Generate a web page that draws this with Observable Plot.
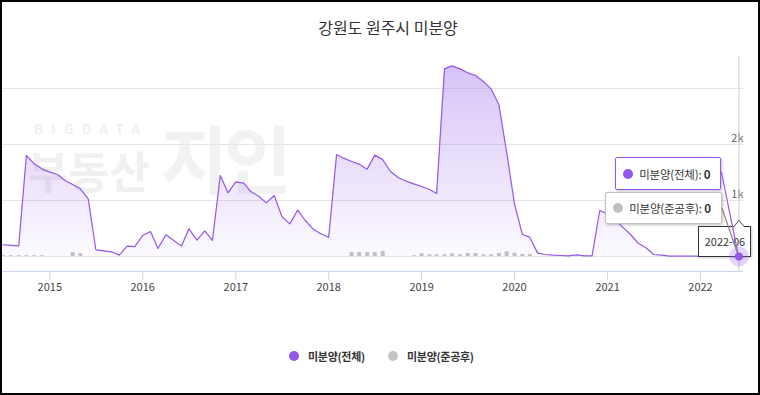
<!DOCTYPE html>
<html><head><meta charset="utf-8">
<script src="https://cdn.jsdelivr.net/npm/d3@7"></script>
<script src="https://cdn.jsdelivr.net/npm/@observablehq/plot@0.6"></script>
<style>
body{margin:0;background:#fff;font-family:"Noto Sans CJK KR","Noto Sans",sans-serif;}
#wrap{position:relative;width:760px;height:395px;overflow:hidden;background:#fff;}
#frame{position:absolute;left:0;top:0;width:760px;height:395px;box-sizing:border-box;border:2px solid #000;pointer-events:none;z-index:20;}
#title{position:absolute;left:0;width:776px;top:15px;text-align:center;font-size:16px;line-height:24px;color:#333;z-index:3;}
#chart{position:absolute;left:0;top:0;z-index:2;}
#hover{position:absolute;left:0;top:0;z-index:9;}
#chart svg,#hover svg{overflow:visible;}
#chart svg [aria-label^="x-axis"] line,#chart svg [aria-label^="x-axis"] path{stroke:#ccd6eb;}
#chart svg [aria-label^="x-axis"] text{fill:#444;}
.wm{position:absolute;color:#f0f0f0;font-weight:bold;z-index:1;white-space:nowrap;}
.legend{position:absolute;top:347px;font-size:11px;font-weight:bold;color:#333;line-height:18px;z-index:3;display:flex;align-items:center;letter-spacing:-0.3px;}
.legend i{display:inline-block;width:10px;height:10px;border-radius:50%;margin-right:9px;}
.tip{position:absolute;box-sizing:border-box;background:rgba(255,255,255,0.96);border:1px solid;border-radius:2px;box-shadow:1px 1px 3px rgba(0,0,0,0.25);z-index:6;display:flex;align-items:center;font-size:11.5px;color:#333;white-space:nowrap;letter-spacing:-0.2px;}
.tip i{display:inline-block;width:10px;height:10px;border-radius:50%;margin-right:6px;}
.tip b{font-weight:bold;}
#datebox{position:absolute;box-sizing:border-box;background:#fff;border:1px solid #333;z-index:7;font-size:11px;color:#333;text-align:center;box-shadow:1px 1px 2px rgba(0,0,0,0.2);}
#datebox:before,#datebox:after{content:"";position:absolute;width:0;height:0;border-left:6px solid transparent;border-right:6px solid transparent;}
#connect{position:absolute;left:0;top:0;z-index:8;}
</style>
</head><body>
<div id="wrap">
  <div class="wm" style="left:34px;top:121px;font-size:13px;line-height:16px;letter-spacing:8.5px;">BIGDATA</div>
  <div class="wm" style="left:28px;top:144px;font-size:44px;line-height:52px;">부동산</div>
  <div class="wm" style="left:160px;top:112px;font-size:74px;line-height:88px;letter-spacing:-4px;color:#f2f2f2;">지인</div>
  <div id="title">강원도 원주시 미분양</div>
  <div id="chart"></div>
  <div id="hover"></div>
  <div class="legend" style="left:289px;"><i style="background:#9457eb"></i>미분양(전체)</div>
  <div class="legend" style="left:388px;"><i style="background:#c4c4c4"></i>미분양(준공후)</div>
  <div id="frame"></div>
</div>
<script>
// ---- data (monthly, starting 2014-07) ----
const startYear = 2014, startMonthIndex = 6; // July 2014
const seriesNames = ["미분양(전체)", "미분양(준공후)"];
const total = [
  210, 200, 191, 1804, 1655, 1565,
  1506, 1464, 1357, 1286, 1208, 1030, 119, 101, 84, 24, 185, 178,
  375, 446, 143, 387, 292, 185, 494, 292, 458, 286, 1446, 1137,
  1333, 1310, 1160, 1077, 958, 1089, 714, 583, 827, 643, 488, 405,
  345, 1821, 1756, 1696, 1649, 1560, 1810, 1730, 1518, 1411, 1345, 1298,
  1250, 1196, 1125, 3351, 3405, 3351, 3280, 3232, 3125, 2994, 2708, 1870,
  941, 393, 345, 60, 36, 24, 18, 12, 30, 12, 12, 821,
  762, 655, 524, 393, 238, 155, 36, 24, 8, 5, 5, 5,
  5, 5, 5, 5, 3, 0
];
const completed = [
  15, 15, 15, 15, 15, 15,
  0, 0, 0, 70, 50, 0, 0, 0, 0, 0, 0, 0,
  0, 0, 0, 0, 0, 0, 0, 0, 0, 0, 0, 0,
  0, 0, 0, 0, 0, 0, 0, 0, 0, 0, 0, 0,
  0, 0, 0, 70, 70, 70, 70, 90, 0, 0, 0, 15,
  50, 30, 30, 30, 48, 30, 54, 54, 30, 30, 54, 83,
  60, 36, 36, 0, 0, 0, 0, 0, 0, 0, 0, 0,
  0, 0, 0, 0, 0, 0, 0, 0, 0, 0, 0, 0,
  0, 0, 0, 0, 0, 0
];
const yearTicks = [2015, 2016, 2017, 2018, 2019, 2020, 2021, 2022];
const gridValues = [0, 1000, 2000, 3000];
const yLabels = [{v: 0, l: "0"}, {v: 1000, l: "1k"}, {v: 2000, l: "2k"}];
const hoverLabel = "2022-06";

const purple = "#9457eb", grey = "#c0c0c0";
const start = new Date(Date.UTC(startYear, startMonthIndex, 1));
const rows = total.map((t, i) => ({date: d3.utcMonth.offset(start, i), total: t, done: completed[i]}));
const last = rows[rows.length - 1];

const base = {
  width: 760, height: 300,
  marginTop: 56, marginBottom: 29, marginLeft: 0, marginRight: 17,
  style: {fontFamily: '"Noto Sans CJK KR", "Noto Sans", sans-serif', fontSize: "11px", color: "#444", background: "transparent", overflow: "visible"},
  x: {type: "utc", domain: [new Date(Date.UTC(2015, 0, 1)), new Date(Date.UTC(2022, 0, 1))], range: [49.3, 700],
      ticks: yearTicks.map(y => new Date(Date.UTC(y, 0, 1))), tickFormat: d3.utcFormat("%Y"), tickSize: 9, tickPadding: 3, label: null},
  y: {domain: [0, 3000], range: [256, 88], axis: null}
};

const chart = Plot.plot({
  ...base,
  marks: [
    Plot.ruleY(gridValues, {stroke: "#e6e6e6"}),
    Plot.areaY(rows, {x: "date", y: "total", fill: "url(#areaGrad)"}),
    Plot.ruleX(rows.filter(d => d.done > 0), {x: "date", y1: 0, y2: "done", stroke: grey, strokeWidth: 4}),
    Plot.lineY(rows, {x: "date", y: "total", stroke: purple, strokeWidth: 1.2}),
    Plot.ruleY([0], {dy: 15, stroke: "#ccd6eb"}),
    Plot.text(yLabels, {y: "v", text: "l", frameAnchor: "right", textAnchor: "end", dy: -6, fill: "#666"}),
    Plot.ruleX([last], {x: "date", stroke: "#cccccc"})
  ]
});
document.getElementById("chart").appendChild(chart);

// hovered-point marker, drawn above the tooltips with the same scales
const hover = Plot.plot({
  ...base,
  x: {...base.x, axis: null},
  marks: [
    Plot.dot([last], {x: "date", y: "total", r: 10, fill: purple, fillOpacity: 0.25}),
    Plot.dot([last], {x: "date", y: "total", r: 4, fill: purple})
  ]
});
document.getElementById("hover").appendChild(hover);

const sx = chart.scale("x"), sy = chart.scale("y");
const ns = "http://www.w3.org/2000/svg";
const defs = document.createElementNS(ns, "defs");
const gTop = sy.apply(d3.max(total)), gBot = sy.apply(0);
defs.innerHTML = `<linearGradient id="areaGrad" gradientUnits="userSpaceOnUse" x1="0" y1="${gTop}" x2="0" y2="${gBot}">
<stop offset="0" stop-color="#9058eb" stop-opacity="0.36"/><stop offset="1" stop-color="#9058eb" stop-opacity="0.03"/></linearGradient>`;
chart.insertBefore(defs, chart.firstChild);

// tooltip for the hovered (last) point, positioned from the scales
const px = sx.apply(last.date), py = sy.apply(last.total);
const wrap = document.getElementById("wrap");
function tip(left, top, w, h, color, name, value) {
  const d = document.createElement("div");
  d.className = "tip";
  Object.assign(d.style, {left: left + "px", top: top + "px", width: w + "px", height: h + "px", borderColor: color, paddingLeft: "7px"});
  d.innerHTML = `<i style="background:${color}"></i>${name}: <b>&nbsp;${value}</b>`;
  wrap.appendChild(d);
}
tip(px - 123.3, py - 99, 106, 33, purple, seriesNames[0], last.total);
tip(px - 133.3, py - 64.3, 117, 32, grey, seriesNames[1], last.done);

const c = document.createElementNS(ns, "svg");
c.setAttribute("id", "connect"); c.setAttribute("width", 760); c.setAttribute("height", 395);
c.innerHTML = `<line x1="${px - 17}" y1="${py - 84}" x2="${px}" y2="${py}" stroke="${purple}" stroke-width="1.2"/>
<line x1="${px - 16.5}" y1="${py - 48}" x2="${px}" y2="${py}" stroke="#888" stroke-width="1.2"/>`;
wrap.appendChild(c);

const db = document.createElement("div");
db.id = "datebox";
Object.assign(db.style, {left: (px - 40) + "px", top: (py - 30.3) + "px", width: "53px", height: "31px", lineHeight: "29px"});
db.textContent = hoverLabel;
wrap.appendChild(db);
const st = document.createElement("style");
st.textContent = `#datebox:before{left:${40 - 6.5}px;top:-7px;border-bottom:7px solid #333;}
#datebox:after{left:${40 - 6.5}px;top:-5.6px;border-bottom:7px solid #fff;}`;
document.head.appendChild(st);
</script>
</body></html>
